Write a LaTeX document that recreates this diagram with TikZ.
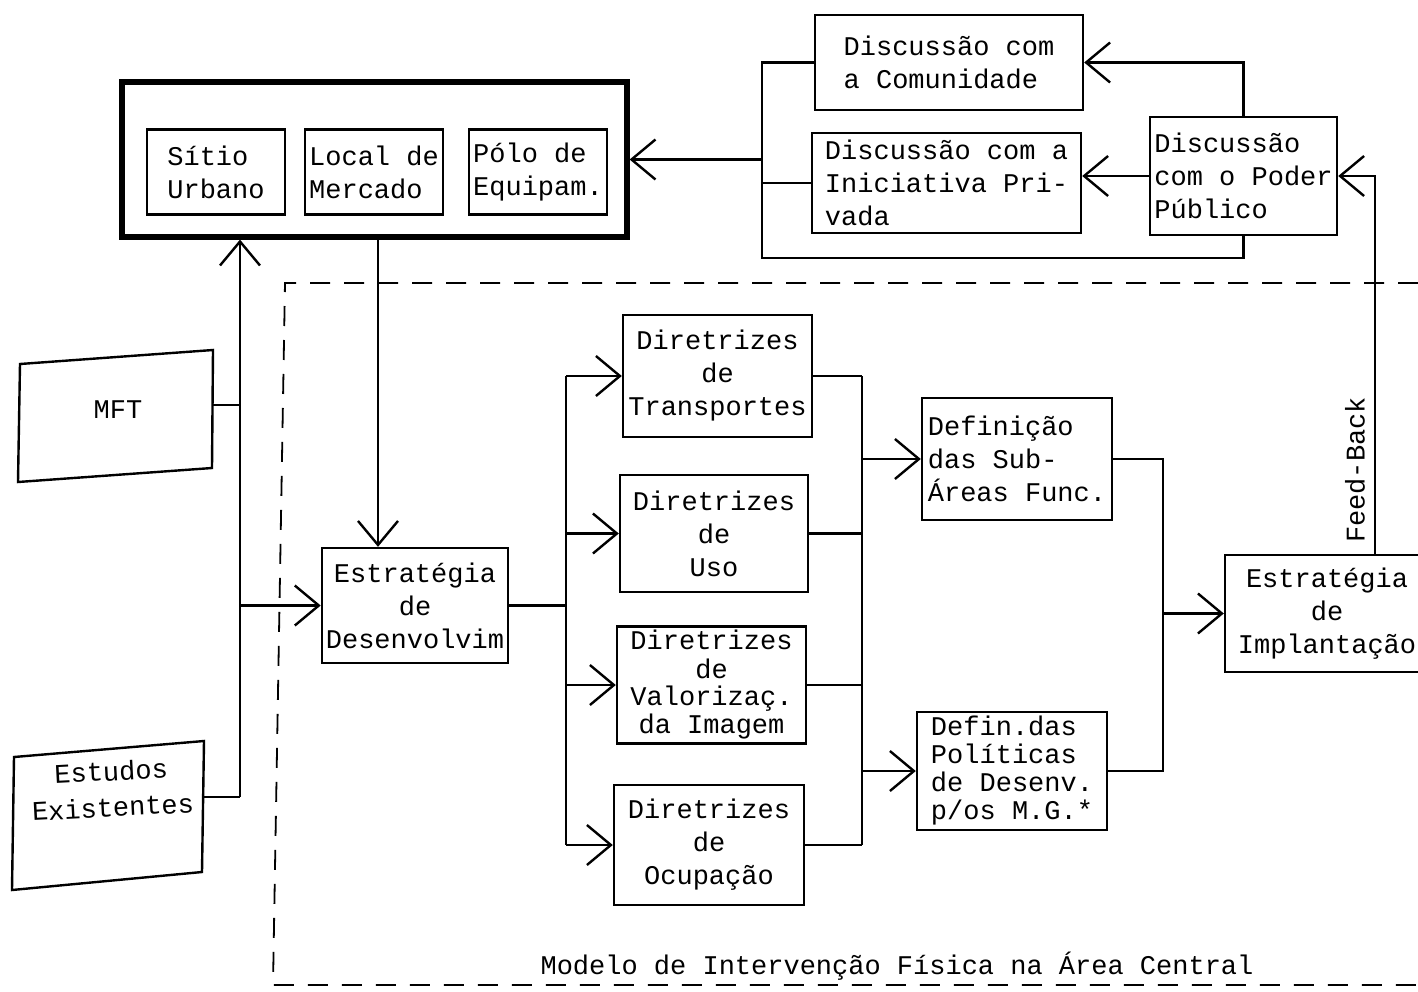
\documentclass[tikz,border=0pt]{standalone}
\usepackage{fontspec}
\newfontfamily\typewr{Liberation Mono}
\usetikzlibrary{arrows.meta}

\begin{document}
\begin{tikzpicture}[x=0.5pt, y=-0.5pt, line width=1.2pt,
  >={Straight Barb[length=12pt,width=20pt]}]
  \tikzset{every node/.style={font=\typewr\fontsize{13.5}{16.5}\selectfont},
    blk/.style={draw, align=center, inner sep=2pt},
    lblk/.style={draw, align=left, inner sep=2pt},
    tight/.style={font=\typewr\fontsize{13.5}{14}\selectfont},
    frame/.style={line width=0.9pt, dash pattern=on 10pt off 7pt}}
  \useasboundingbox (0,0) rectangle (1418,991);
  \node[draw, line width=2.6pt, minimum width=252.5pt, minimum height=77.5pt] (grupo) at (374.5,159.5) {};
  \node[lblk, minimum width=69pt, minimum height=42.5pt] (sitio) at (216,172) {S\'{\i}tio\\Urbano};
  \node[lblk, minimum width=69pt, minimum height=42.5pt] (local) at (374,172) {Local de\\Mercado};
  \node[lblk, minimum width=68pt, minimum height=42.5pt] (polo) at (538,172) {Pólo de\\Equipam.};
  \node[lblk, minimum width=134pt, minimum height=47.5pt] (comun) at (949,62.5) {Discussão com\\a Comunidade};
  \node[lblk, minimum width=134.5pt, minimum height=50pt] (inic) at (946.5,183) {Discussão com a\\Iniciativa Pri-\\vada};
  \node[lblk, minimum width=93.5pt, minimum height=59pt] (poder) at (1243.5,176) {Discussão\\com o Poder\\Público};
  \coordinate (m1) at (20,364);
  \coordinate (m2) at (213,350);
  \coordinate (m3) at (212,468);
  \coordinate (m4) at (18,482);
  \draw (m1) -- (m2) -- (m3) -- (m4) -- cycle;
  \node (mft) at (118,410) {MFT};
  \coordinate (mftR) at (212.5,405);
  \coordinate (e1) at (14,757);
  \coordinate (e2) at (204,741);
  \coordinate (e3) at (202,872);
  \coordinate (e4) at (12,890);
  \draw (e1) -- (e2) -- (e3) -- (e4) -- cycle;
  \node[align=center, rotate=3] (estud) at (112,789) {Estudos\\[1.5pt]Existentes};
  \coordinate (estR) at (203,797);
  \node[blk, minimum width=93pt, minimum height=57.5pt] (estdes) at (415,605.5) {Estratégia\\de\\Desenvolvim};
  \node[blk, minimum width=94.5pt, minimum height=61pt] (transp) at (717.5,376) {Diretrizes\\de\\Transportes};
  \node[blk, minimum width=94pt, minimum height=58.5pt] (uso) at (714,533.5) {Diretrizes\\de\\Uso};
  \node[blk, tight, minimum width=94.5pt, minimum height=57pt] (valor) at (711.5,685) {Diretrizes\\de\\Valorizaç.\\da Imagem};
  \node[blk, minimum width=95pt, minimum height=60pt] (ocup) at (709,845) {Diretrizes\\de\\Ocupação};
  \node[lblk, minimum width=95pt, minimum height=61pt] (subar) at (1017,459) {Definição\\das Sub-\\Áreas Func.};
  \node[lblk, tight, minimum width=95pt, minimum height=59pt] (polit) at (1012,771) {Defin.das\\Políticas\\de Desenv.\\p/os M.G.*};
  \node[blk, minimum width=102pt, minimum height=58.5pt] (estimp) at (1327,613.5) {Estratégia\\de\\Implantação};
  \draw[frame] (1418,283) -- (285,283) -- (273,985) -- (1418,985);
  \node (modelo) at (897,966) {Modelo de Intervenção Física na Área Central};
  \coordinate (tr) at (240,797);
  \draw (estR) -- (tr);
  \draw[->] (tr) -- (tr |- grupo.south);
  \draw (mftR) -- (mftR -| tr);
  \draw[->] (tr |- estdes.west) -- (estdes.west);
  \draw[->] ([xshift=1.75pt]grupo.south) -- ([xshift=1.75pt]grupo.south |- estdes.north);
  \coordinate (d1) at (566,605);
  \draw (estdes.east) -- (estdes.east -| d1);
  \draw (d1 |- transp.west) -- (d1 |- ocup.west);
  \foreach \n in {transp,uso,valor,ocup}
    \draw[->] (d1 |- \n.west) -- (\n.west);
  \coordinate (c1) at (862,600);
  \foreach \n in {transp,uso,valor,ocup}
    \draw (\n.east) -- (\n.east -| c1);
  \draw (c1 |- transp.east) -- (c1 |- ocup.east);
  \draw[->] (c1 |- subar.west) -- (subar.west);
  \draw[->] (c1 |- polit.west) -- (polit.west);
  \coordinate (c2) at (1163,600);
  \draw (subar.east) -- (subar.east -| c2) -- (polit.east -| c2) -- (polit.east);
  \draw[->] (c2 |- estimp.west) -- (estimp.west);
  \coordinate (fb) at (1375,400);
  \draw[->] (estimp.north -| fb) -- (fb |- poder.east) -- (poder.east);
  \node[rotate=90] (feed) at (1355,470) {Feed-Back};
  \draw[->] (poder.north) |- (comun.east);
  \draw[->] (poder.west) -- (poder.west -| inic.east);
  \coordinate (lp) at (762,258);
  \draw (poder.south) -- (poder.south |- lp) -- (lp) -- (lp |- comun.west) -- (comun.west);
  \draw (lp |- inic.west) -- (inic.west);
  \draw[->] (lp |- grupo.east) -- (grupo.east);
\end{tikzpicture}
\end{document}
